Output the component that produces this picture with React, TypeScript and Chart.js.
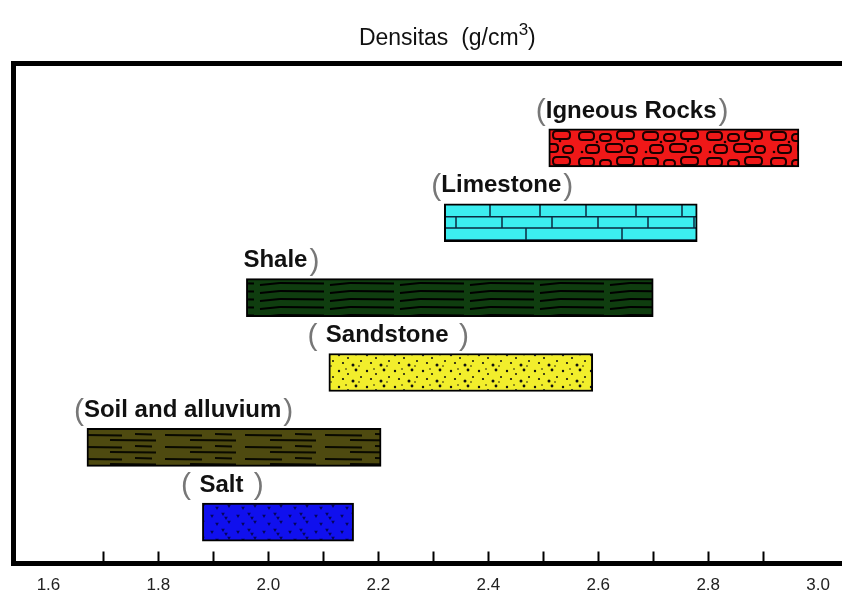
import React, { useEffect, useRef } from "react";
import { Chart, registerables } from "chart.js";

Chart.register(...registerables);

// ---- data ----
const rocks = ["Igneous Rocks", "Limestone", "Shale", "Sandstone", "Soil and alluvium", "Salt"];
const rockLabels = ["(Igneous Rocks)", "(Limestone)", "Shale)", "( Sandstone )", "(Soil and alluvium)", "( Salt )"];
const densityMin = [2.51, 2.32, 1.96, 2.11, 1.67, 1.88];
const densityMax = [2.965, 2.78, 2.7, 2.59, 2.205, 2.155];
const rockColors = ["#f01818", "#3ceef0", "#0f3d0f", "#f2ee2c", "#4e4a10", "#1010ee"];
const xTickValues = [1.6, 1.8, 2.0, 2.2, 2.4, 2.6, 2.8, 3.0];
const minorTickValues = [1.7, 1.8, 1.9, 2.0, 2.1, 2.2, 2.3, 2.4, 2.5, 2.6, 2.7, 2.8, 2.9];
const axisTitleMain = "Densitas  (g/cm";
const axisTitleSup = "3";
const axisTitleEnd = ")";

const FONT = '"Liberation Sans", Arial, sans-serif';

function makeTile(w: number, h: number, bg: string, draw: (g: CanvasRenderingContext2D) => void) {
  const c = document.createElement("canvas");
  c.width = w;
  c.height = h;
  const g = c.getContext("2d")!;
  g.fillStyle = bg;
  g.fillRect(0, 0, w, h);
  draw(g);
  return g.createPattern(c, "repeat")!;
}

function rr(g: CanvasRenderingContext2D, x: number, y: number, w: number, h: number, r: number) {
  g.beginPath();
  g.moveTo(x + r, y);
  g.lineTo(x + w - r, y);
  g.quadraticCurveTo(x + w, y, x + w, y + r);
  g.lineTo(x + w, y + h - r);
  g.quadraticCurveTo(x + w, y + h, x + w - r, y + h);
  g.lineTo(x + r, y + h);
  g.quadraticCurveTo(x, y + h, x, y + h - r);
  g.lineTo(x, y + r);
  g.quadraticCurveTo(x, y, x + r, y);
  g.closePath();
}

function makePatterns(): CanvasPattern[] {
  const igneous = makeTile(64, 26, rockColors[0], (g) => {
    g.strokeStyle = "#1a0000";
    g.lineWidth = 2;
    const pebbles = [
      [3, 2, 15, 8], [24, 4, 11, 7], [41, 1, 17, 8],
      [10, 15, 13, 8], [30, 14, 16, 8], [51, 16, 10, 7],
    ];
    pebbles.forEach(([x, y, w, h]) => {
      rr(g, x, y, w, h, 3.5);
      g.stroke();
    });
    g.fillStyle = "#1a0000";
    [[21, 12], [48, 11], [6, 22]].forEach(([x, y]) => {
      g.beginPath();
      g.arc(x, y, 1.3, 0, Math.PI * 2);
      g.fill();
    });
  });
  const limestone = makeTile(96, 36, rockColors[1], (g) => {
    g.strokeStyle = "#0a2a40";
    g.lineWidth = 1.5;
    g.beginPath();
    [0.75, 12, 24].forEach((y) => {
      g.moveTo(0, y);
      g.lineTo(96, y);
    });
    [[22, 0, 12], [72, 0, 12], [46, 12, 24], [10, 24, 36], [60, 24, 36]].forEach(([x, a, b]) => {
      g.moveTo(x, a);
      g.lineTo(x, b);
    });
    g.stroke();
  });
  const shale = makeTile(70, 8, rockColors[2], (g) => {
    g.strokeStyle = "#000";
    g.lineWidth = 2;
    g.beginPath();
    g.moveTo(0, 3);
    g.lineTo(44, 3.5);
    g.moveTo(50, 5);
    g.lineTo(70, 3);
    g.stroke();
  });
  const sandstone = makeTile(28, 16, rockColors[3], (g) => {
    g.fillStyle = "#111";
    [[3, 3, 1.2], [12, 6, 1], [20, 2, 1.4], [7, 11, 1.1], [17, 13, 1.5], [25, 9, 1], [10, 1, 0.8], [23, 14, 0.8]].forEach(
      ([x, y, r]) => {
        g.beginPath();
        g.arc(x, y, r, 0, Math.PI * 2);
        g.fill();
      }
    );
  });
  const soil = makeTile(80, 12, rockColors[4], (g) => {
    g.strokeStyle = "#0a0a00";
    g.lineWidth = 2;
    g.beginPath();
    g.moveTo(5, 3);
    g.lineTo(42, 3.5);
    g.moveTo(30, 8);
    g.lineTo(76, 8.5);
    g.moveTo(55, 2);
    g.lineTo(72, 2.5);
    g.stroke();
  });
  const salt = makeTile(26, 16, rockColors[5], (g) => {
    g.fillStyle = "#05055a";
    [[4, 4], [15, 2], [21, 10], [9, 12], [18, 6]].forEach(([x, y]) => {
      g.beginPath();
      g.moveTo(x - 1.8, y - 1.2);
      g.lineTo(x + 1.8, y - 1.2);
      g.lineTo(x, y + 2);
      g.closePath();
      g.fill();
    });
  });
  return [igneous, limestone, shale, sandstone, soil, salt];
}

const titlePlugin = {
  id: "densTitle",
  afterDraw(chart: any) {
    const { ctx, chartArea } = chart;
    ctx.save();
    const mainFont = `normal 23px ${FONT}`;
    const supFont = `normal 17px ${FONT}`;
    ctx.font = mainFont;
    const wMain = ctx.measureText(axisTitleMain).width;
    const wEnd = ctx.measureText(axisTitleEnd).width;
    ctx.font = supFont;
    const wSup = ctx.measureText(axisTitleSup).width;
    const total = wMain + wSup + wEnd;
    const cx = (chartArea.left + chartArea.right) / 2 + 20;
    const baseY = 45;
    let x = cx - total / 2;
    ctx.fillStyle = "#111";
    ctx.textBaseline = "alphabetic";
    ctx.textAlign = "left";
    ctx.font = mainFont;
    ctx.fillText(axisTitleMain, x, baseY);
    x += wMain;
    ctx.font = supFont;
    ctx.fillText(axisTitleSup, x, baseY - 10);
    x += wSup;
    ctx.font = mainFont;
    ctx.fillText(axisTitleEnd, x, baseY);
    ctx.restore();
  },
};

const minorTickPlugin = {
  id: "minorTicks",
  afterDraw(chart: any) {
    const { ctx, chartArea } = chart;
    const xs = chart.scales.x;
    ctx.save();
    ctx.strokeStyle = "#000";
    ctx.lineWidth = 2;
    ctx.beginPath();
    minorTickValues.forEach((v) => {
      const px = Math.round(xs.getPixelForValue(v)) + 0.5;
      ctx.moveTo(px, chartArea.bottom);
      ctx.lineTo(px, chartArea.bottom - 12);
    });
    ctx.stroke();
    ctx.restore();
  },
};

const barLabelPlugin = {
  id: "barLabels",
  afterDatasetsDraw(chart: any) {
    const { ctx } = chart;
    const meta = chart.getDatasetMeta(0);
    const coreFont = `bold 24px ${FONT}`;
    const parenFont = `normal 30px ${FONT}`;
    ctx.save();
    ctx.textBaseline = "middle";
    ctx.textAlign = "left";
    meta.data.forEach((el: any, i: number) => {
      const p = el.getProps(["x", "y", "base", "height"], true);
      const left = Math.min(p.x, p.base);
      const top = p.y - p.height / 2;
      const ty = top - 18;
      const m = /^([(\s]*)(.*?)([)\s]*)$/.exec(rockLabels[i])!;
      const lead = m[1];
      const core = m[2];
      const trail = m[3];
      const startX = left - 3;
      ctx.font = parenFont;
      const wLead = ctx.measureText(lead).width;
      ctx.fillStyle = "#777";
      ctx.fillText(lead, startX - wLead, ty + 1);
      ctx.font = coreFont;
      ctx.fillStyle = "#111";
      ctx.fillText(core, startX, ty);
      const wCore = ctx.measureText(core).width;
      ctx.font = parenFont;
      ctx.fillStyle = "#777";
      ctx.fillText(trail, startX + wCore + 2, ty + 1);
    });
    ctx.restore();
  },
};

export default function App() {
  const ref = useRef<HTMLCanvasElement | null>(null);

  useEffect(() => {
    if (!ref.current) return;
    const patterns = makePatterns();
    const xMin = 1.5355;
    const xMax = 3.0427;
    const chart = new Chart(ref.current, {
      type: "bar",
      data: {
        labels: rocks,
        datasets: [
          {
            label: "Density",
            data: rocks.map((_, i) => ({ x: [densityMin[i], densityMax[i]], y: i })) as any,
            backgroundColor: patterns as any,
            borderColor: "#000",
            borderWidth: 2,
            borderSkipped: false,
            barThickness: 38,
            xAxisID: "x",
            yAxisID: "y",
          },
        ],
      },
      options: {
        indexAxis: "y",
        animation: false,
        responsive: false,
        layout: { padding: { left: 13, top: 63, right: 0, bottom: -12 } },
        plugins: {
          legend: { display: false },
          title: { display: false },
          tooltip: { enabled: false },
        },
        scales: {
          x: {
            type: "linear",
            position: "bottom",
            min: xMin,
            max: xMax,
            offset: false,
            grid: { display: false, drawTicks: false },
            border: { display: true, color: "#000", width: 5 },
            afterBuildTicks: (scale: any) => {
              scale.ticks = xTickValues.map((value) => ({ value }));
            },
            ticks: {
              autoSkip: false,
              maxRotation: 0,
              padding: 12,
              color: "#222",
              font: { family: FONT, size: 17 },
              callback: (v: any) => Number(v).toFixed(1),
            },
          },
          xTop: {
            type: "linear",
            position: "top",
            min: xMin,
            max: xMax,
            offset: false,
            grid: { display: false, drawTicks: false },
            border: { display: true, color: "#000", width: 5 },
            ticks: { display: false },
          },
          y: {
            type: "linear",
            reverse: true,
            offset: false,
            min: -1.135,
            max: 5.554,
            grid: { display: false, drawTicks: false, offset: false },
            border: { display: true, color: "#000", width: 5 },
            ticks: { display: false },
          },
        },
      },
      plugins: [titlePlugin, minorTickPlugin, barLabelPlugin],
    });
    return () => chart.destroy();
  }, []);

  return (
    <div style={{ position: "absolute", left: 0, top: 0, width: 842, height: 596, background: "#fff" }}>
      <canvas ref={ref} width={842} height={596} />
    </div>
  );
}
